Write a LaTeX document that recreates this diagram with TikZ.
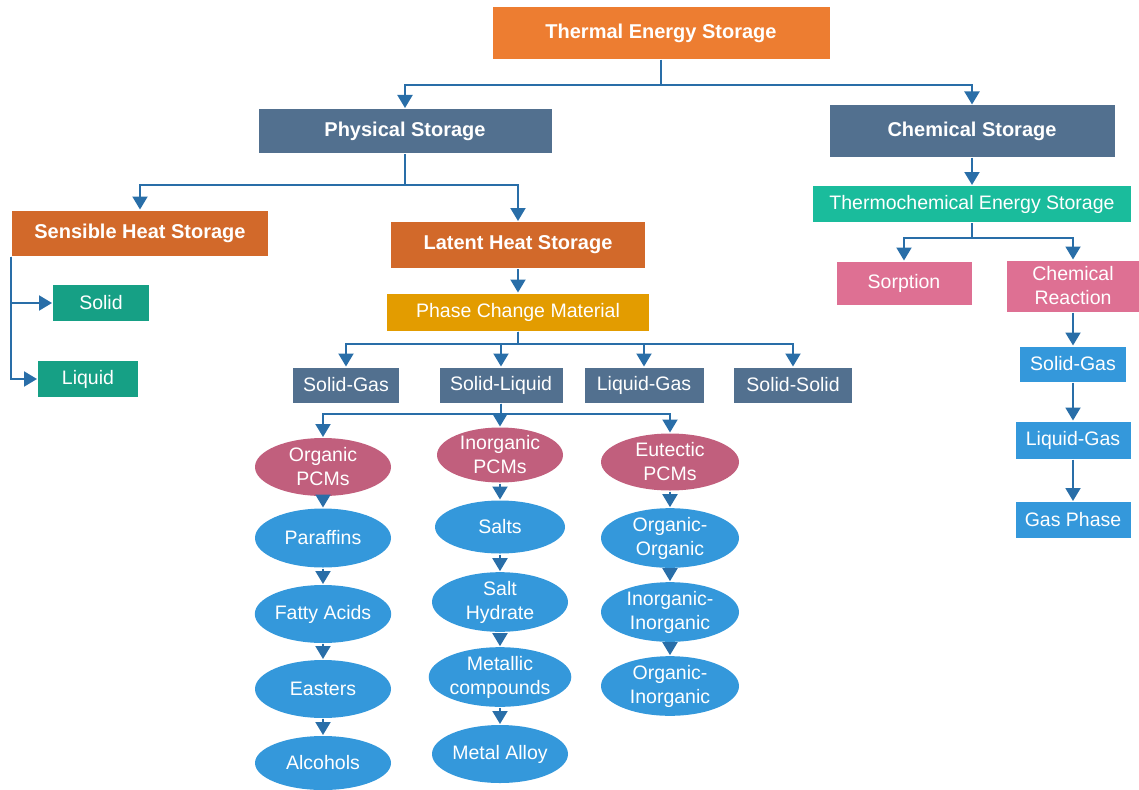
\documentclass[tikz,border=0pt]{standalone}
\usepackage{fontspec}
\setmainfont{Liberation Sans}
\usetikzlibrary{positioning, arrows.meta, shapes.geometric}
\definecolor{tesorange}{RGB}{237,125,49}
\definecolor{slate}{RGB}{82,112,143}
\definecolor{rust}{RGB}{210,105,42}
\definecolor{teal}{RGB}{22,160,133}
\definecolor{amber}{RGB}{227,156,0}
\definecolor{mint}{RGB}{26,188,156}
\definecolor{pink}{RGB}{222,112,147}
\definecolor{rose}{RGB}{193,95,125}
\definecolor{sky}{RGB}{52,152,219}
\definecolor{wire}{RGB}{41,110,168}

\begin{document}
\begin{tikzpicture}[x=1pt, y=-1pt, ->, >={Triangle[width=15pt,length=13pt]}, line width=2pt, draw=wire,
    box/.style={rectangle, inner sep=0pt, text=white, font=\fontsize{19.5}{24}\selectfont, align=center},
    head/.style={box, font=\fontsize{20}{24}\selectfont\bfseries},
    oval/.style={ellipse, inner sep=0pt, text=white, fill=sky, minimum width=136, minimum height=57,
        font=\fontsize{19.5}{24}\selectfont, align=center}]
    \useasboundingbox (0,0) rectangle (1139,789);
    	\node[head, fill=tesorange, minimum width=337, minimum height=52] (tes) at (661,33) {Thermal Energy Storage};
    	\node[head, fill=slate, minimum width=293, minimum height=44] (phys) at (405,131) {Physical Storage};
    	\node[head, fill=slate, minimum width=285, minimum height=51] (chem) at (972,131) {Chemical Storage};
    	\node[head, fill=rust, minimum width=256, minimum height=45] (sens) at (140,233) {Sensible Heat Storage};
    	\node[head, fill=rust, minimum width=254, minimum height=46] (lat) at (518,245) {Latent Heat Storage};
    	\node[box, fill=teal, minimum width=96, minimum height=36] (solid) at (101,303) {Solid};
    	\node[box, fill=teal, minimum width=100, minimum height=36] (liquid) at (88,379) {Liquid};
    	\node[box, fill=amber, minimum width=262, minimum height=37] (pcm) at (518,312) {Phase Change Material};
    	\node[box, fill=slate, minimum width=106, minimum height=35] (sg) at (346,385) {Solid-Gas};
    	\node[box, fill=slate, minimum width=123, minimum height=35] (sl) at (501,385) {Solid-Liquid};
    	\node[box, fill=slate, minimum width=119, minimum height=35] (lg) at (644,385) {Liquid-Gas};
    	\node[box, fill=slate, minimum width=118, minimum height=35] (ss) at (793,385) {Solid-Solid};
    	\node[oval, fill=rose, minimum height=58] (org) at (323,467) {Organic\\PCMs};
    	\node[oval, fill=rose, minimum width=126, minimum height=55] (inorg) at (500,455) {Inorganic\\PCMs};
    	\node[oval, fill=rose, minimum width=138] (eut) at (670,462) {Eutectic\\PCMs};
    	\node[oval, minimum height=59] (par) at (323,538) {Paraffins};
    	\node[oval, minimum width=130, minimum height=53] (salt) at (500,527) {Salts};
    	\node[oval, minimum width=138] (oo) at (670,538) {Organic-\\Organic};
    	\node[oval, minimum height=58] (fat) at (323,614) {Fatty Acids};
    	\node[oval] (hyd) at (500,602) {Salt\\Hydrate};
    	\node[oval, minimum width=138] (ii) at (670,612) {Inorganic-\\Inorganic};
    	\node[oval, minimum height=58] (eas) at (323,689) {Easters};
    	\node[oval, minimum height=55] (met) at (500,677) {Metallic\\compounds};
    	\node[oval, minimum width=138, minimum height=54] (oi) at (670,686) {Organic-\\Inorganic};
    	\node[oval, minimum height=54] (alc) at (323,763) {Alcohols};
    	\node[oval, minimum height=58] (all) at (500,754) {Metal Alloy};
    	\node[box, fill=mint, minimum width=318, minimum height=36] (tcs) at (972,204) {Thermochemical Energy Storage};
    	\node[box, fill=pink, minimum width=135, minimum height=43] (sorp) at (904,283) {Sorption};
    	\node[box, fill=pink, minimum width=133, minimum height=51] (react) at (1073,286) {Chemical\\Reaction};
    	\node[box, fill=sky, minimum width=106, minimum height=35] (csg) at (1073,364) {Solid-Gas};
    	\node[box, fill=sky, minimum width=115, minimum height=37] (clg) at (1073,440) {Liquid-Gas};
    	\node[box, fill=sky, minimum width=115, minimum height=36] (gas) at (1073,520) {Gas Phase};
		\draw 	(tes.south) -- ++(0,25) -| (phys.north);
		\draw 	(tes.south) -- ++(0,25) -| (chem.north);
		\draw 	(phys.south) -- ++(0,31) -| (sens.north);
		\draw 	(phys.south) -- ++(0,31) -| (lat.north);
		\draw 	(sens.south west) |- (solid.west);
		\draw 	(sens.south west) |- (liquid.west);
		\draw 	(lat) -- (pcm);
		\draw 	(pcm.south) -- ++(0,12) -| (sg.north);
		\draw 	(pcm.south) -- ++(0,12) -| (sl.north);
		\draw 	(pcm.south) -- ++(0,12) -| (lg.north);
		\draw 	(pcm.south) -- ++(0,12) -| (ss.north);
		\draw 	(sl.south) -- ++(0,10) -| (org.north);
		\draw 	(sl.south) -- ++(0,10) -| (inorg.north);
		\draw 	(sl.south) -- ++(0,10) -| (eut.north);
		\draw 	(org) edge (par) (par) edge (fat) (fat) edge (eas) (eas) edge (alc);
		\draw 	(inorg) edge (salt) (salt) edge (hyd) (hyd) edge (met) (met) edge (all);
		\draw 	(eut) edge (oo) (oo) edge (ii) (ii) edge (oi);
		\draw 	(chem) -- (tcs);
		\draw 	(tcs.south) -- ++(0,15) -| (sorp.north);
		\draw 	(tcs.south) -- ++(0,15) -| (react.north);
		\draw 	(react) edge (csg) (csg) edge (clg) (clg) edge (gas);
\end{tikzpicture}
\end{document}
